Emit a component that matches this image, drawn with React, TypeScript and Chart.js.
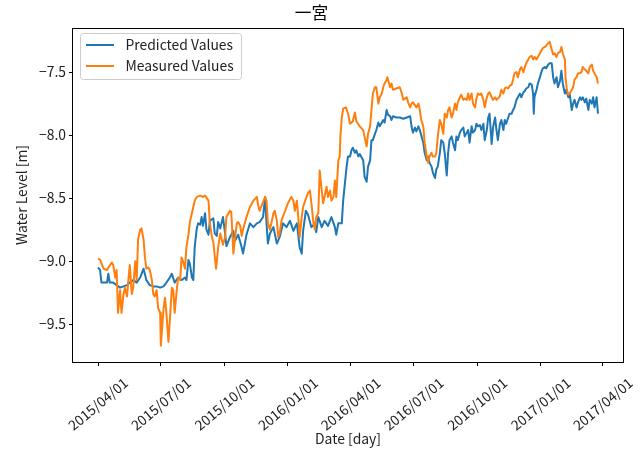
import React, { useEffect, useRef } from "react";
import { Chart, registerables } from "chart.js";

Chart.register(...registerables);

const FONT = '"Noto Sans CJK JP", "Noto Sans", sans-serif';
const TEXT_COLOR = "#222222";

const chartTitle = "一宮";
const xAxisTitle = "Date [day]";
const yAxisTitle = "Water Level [m]";
const seriesNames = ["Predicted Values", "Measured Values"];
const seriesColors = ["#1f77b4", "#ff7f0e"];

// x positions are days since 2015/04/01
const xTickDays = [0, 91, 183, 275, 366, 457, 549, 641, 731];
const xTickLabels = [
  "2015/04/01", "2015/07/01", "2015/10/01", "2016/01/01", "2016/04/01",
  "2016/07/01", "2016/10/01", "2017/01/01", "2017/04/01",
];
const yTickValues = [-9.5, -9.0, -8.5, -8.0, -7.5];

const predictedDays = [
  0, 3, 5, 8, 13, 15, 17, 22, 27, 32,
  37, 42, 46, 51, 56, 61, 66, 70, 75, 80,
  85, 90, 95, 99, 104, 107, 111, 116, 121, 126,
  128, 131, 133, 136, 138, 140, 143, 145, 148, 150,
  152, 155, 157, 160, 162, 167, 169, 172, 174, 177,
  181, 184, 186, 191, 196, 198, 203, 208, 210, 215,
  220, 225, 230, 234, 239, 242, 244, 246, 249, 254,
  259, 263, 268, 273, 278, 283, 288, 292, 295, 297,
  301, 304, 309, 314, 316, 319, 324, 328, 333, 338,
  343, 345, 348, 353, 355, 357, 360, 362, 365, 367,
  369, 372, 374, 377, 379, 384, 386, 389, 391, 394,
  396, 398, 401, 403, 406, 408, 413, 415, 418, 420,
  423, 425, 427, 432, 437, 442, 447, 452, 454, 456,
  459, 461, 464, 466, 468, 471, 473, 476, 478, 480,
  483, 485, 488, 490, 492, 495, 497, 500, 502, 505,
  507, 509, 512, 514, 517, 519, 521, 524, 526, 529,
  531, 534, 536, 538, 541, 543, 546, 548, 550, 553,
  555, 558, 560, 563, 565, 567, 570, 572, 575, 577,
  579, 582, 584, 587, 589, 591, 594, 596, 599, 601,
  603, 606, 608, 611, 613, 616, 618, 620, 623, 625,
  628, 630, 631, 632, 635, 637, 640, 642, 644, 647,
  649, 652, 654, 657, 659, 661, 664, 666, 669, 671,
  673, 676, 678, 681, 683, 686, 688, 690, 693, 695,
  698, 700, 702, 705, 707, 710, 712, 715, 717, 719,
  722, 724,
];
const predictedValues = [
  -9.05, -9.07, -9.17, -9.17, -9.17, -9.10, -9.17, -9.17, -9.19, -9.21,
  -9.20, -9.19, -9.17, -9.15, -9.17, -9.13, -9.06, -9.15, -9.19, -9.20,
  -9.20, -9.21, -9.20, -9.17, -9.13, -9.10, -9.17, -9.13, -9.15, -9.13,
  -9.15, -8.99, -9.02, -9.13, -9.15, -8.89, -8.74, -8.70, -8.71, -8.65,
  -8.72, -8.62, -8.75, -8.79, -8.68, -8.66, -8.78, -8.80, -8.69, -8.74,
  -8.65, -8.78, -8.88, -8.81, -8.76, -8.84, -8.79, -8.89, -8.94, -8.79,
  -8.70, -8.73, -8.70, -8.69, -8.65, -8.49, -8.70, -8.86, -8.78, -8.73,
  -8.86, -8.81, -8.70, -8.73, -8.68, -8.76, -8.70, -8.89, -8.94, -8.76,
  -8.60, -8.63, -8.73, -8.70, -8.77, -8.65, -8.73, -8.68, -8.72, -8.65,
  -8.73, -8.79, -8.70, -8.70, -8.52, -8.41, -8.25, -8.17, -8.17, -8.12,
  -8.10, -8.14, -8.12, -8.17, -8.15, -8.20, -8.33, -8.37, -8.25, -8.20,
  -8.04, -8.04, -7.99, -7.96, -7.90, -7.93, -7.88, -7.90, -7.80, -7.84,
  -7.85, -7.88, -7.85, -7.86, -7.86, -7.87, -7.86, -7.85, -7.93, -7.98,
  -7.94, -7.97, -7.93, -7.96, -8.00, -8.06, -8.14, -8.20, -8.17, -8.22,
  -8.25, -8.30, -8.34, -8.27, -8.25, -8.14, -8.04, -8.06, -8.14, -8.32,
  -8.14, -8.04, -8.01, -8.06, -8.12, -8.01, -8.04, -7.98, -7.96, -7.94,
  -8.01, -7.98, -7.96, -8.06, -7.93, -7.98, -7.96, -7.91, -7.93, -7.92,
  -7.96, -7.91, -8.04, -7.96, -7.86, -7.83, -8.07, -7.94, -7.86, -7.96,
  -8.04, -7.91, -7.88, -7.96, -7.88, -7.91, -7.86, -7.83, -7.83, -7.80,
  -7.78, -7.72, -7.70, -7.67, -7.70, -7.66, -7.65, -7.63, -7.62, -7.59,
  -7.60, -7.67, -7.83, -7.70, -7.64, -7.59, -7.54, -7.50, -7.47, -7.46,
  -7.47, -7.44, -7.43, -7.43, -7.54, -7.59, -7.54, -7.62, -7.57, -7.49,
  -7.59, -7.67, -7.64, -7.70, -7.67, -7.80, -7.75, -7.72, -7.78, -7.74,
  -7.70, -7.72, -7.70, -7.74, -7.71, -7.80, -7.72, -7.75, -7.70, -7.78,
  -7.70, -7.83,
];

const measuredDays = [
  0, 3, 8, 13, 15, 20, 22, 25, 27, 29,
  32, 34, 37, 39, 42, 44, 46, 49, 51, 54,
  56, 58, 61, 63, 66, 68, 70, 73, 75, 78,
  80, 82, 85, 87, 90, 91, 95, 97, 99, 102,
  104, 107, 109, 111, 114, 116, 119, 121, 123, 126,
  128, 131, 133, 136, 138, 140, 143, 148, 152, 155,
  160, 162, 165, 167, 171, 174, 177, 181, 184, 186,
  191, 193, 196, 198, 201, 203, 206, 208, 210, 215,
  220, 225, 230, 232, 234, 237, 242, 244, 246, 249,
  251, 254, 256, 259, 261, 263, 266, 271, 275, 280,
  283, 285, 288, 290, 292, 295, 297, 300, 304, 307,
  309, 312, 314, 316, 319, 321, 324, 326, 328, 331,
  333, 336, 338, 341, 343, 345, 348, 350, 351, 353,
  355, 359, 362, 365, 369, 372, 374, 379, 384, 389,
  391, 394, 396, 398, 401, 403, 406, 408, 411, 413,
  415, 418, 419, 423, 425, 427, 432, 437, 440, 442,
  447, 449, 452, 454, 456, 461, 464, 466, 468, 471,
  473, 476, 478, 480, 483, 485, 488, 490, 492, 495,
  497, 500, 502, 505, 507, 509, 512, 514, 517, 519,
  521, 524, 526, 529, 531, 534, 536, 538, 541, 543,
  546, 548, 550, 553, 555, 558, 560, 563, 565, 567,
  570, 572, 575, 577, 579, 582, 584, 587, 589, 591,
  594, 596, 599, 601, 603, 606, 608, 611, 613, 616,
  618, 620, 623, 625, 628, 630, 632, 635, 637, 640,
  642, 644, 647, 649, 652, 654, 657, 659, 661, 664,
  666, 669, 671, 673, 676, 677, 679, 681, 683, 686,
  688, 690, 693, 695, 698, 700, 702, 705, 707, 710,
  712, 715, 717, 719, 722, 724,
];
const measuredValues = [
  -8.98, -8.99, -9.06, -9.07, -9.05, -9.01, -9.03, -9.13, -9.07, -9.41,
  -9.23, -9.41, -9.26, -9.21, -9.28, -9.15, -9.03, -9.26, -9.21, -9.00,
  -9.15, -8.83, -8.75, -8.74, -8.83, -8.97, -9.06, -9.05, -9.07, -9.15,
  -9.26, -9.28, -9.23, -9.37, -9.41, -9.67, -9.37, -9.29, -9.41, -9.64,
  -9.47, -9.21, -9.23, -9.41, -9.23, -9.13, -9.15, -8.97, -9.00, -9.06,
  -8.89, -8.79, -8.69, -8.62, -8.57, -8.52, -8.49, -8.48, -8.49, -8.48,
  -8.52, -8.70, -8.81, -8.85, -9.06, -8.89, -8.78, -8.87, -8.81, -8.65,
  -8.60, -8.61, -8.94, -8.84, -8.70, -8.69, -8.72, -8.80, -8.75, -8.65,
  -8.57, -8.52, -8.49, -8.56, -8.60, -8.56, -8.49, -8.52, -8.70, -8.75,
  -8.70, -8.62, -8.60, -8.68, -8.81, -8.78, -8.67, -8.60, -8.54, -8.49,
  -8.52, -8.60, -8.52, -8.65, -8.81, -8.65, -8.57, -8.52, -8.46, -8.44,
  -8.54, -8.70, -8.75, -8.65, -8.62, -8.28, -8.44, -8.54, -8.49, -8.41,
  -8.49, -8.44, -8.52, -8.49, -8.36, -8.49, -8.20, -8.17, -8.01, -7.86,
  -7.79, -7.78, -7.83, -7.91, -7.89, -7.82, -7.89, -7.93, -7.96, -8.09,
  -7.99, -7.93, -7.80, -7.67, -7.62, -7.62, -7.75, -7.70, -7.67, -7.62,
  -7.59, -7.56, -7.54, -7.62, -7.59, -7.64, -7.63, -7.62, -7.67, -7.72,
  -7.70, -7.74, -7.78, -7.75, -7.74, -7.78, -7.75, -7.80, -7.88, -7.93,
  -8.06, -8.17, -8.22, -8.17, -8.14, -8.17, -8.17, -8.14, -8.01, -7.88,
  -7.91, -7.99, -7.83, -7.86, -7.80, -7.78, -7.86, -7.83, -7.75, -7.80,
  -7.74, -7.70, -7.68, -7.72, -7.71, -7.72, -7.67, -7.72, -7.67, -7.75,
  -7.78, -7.71, -7.67, -7.68, -7.67, -7.72, -7.78, -7.70, -7.67, -7.66,
  -7.70, -7.72, -7.70, -7.72, -7.71, -7.69, -7.64, -7.67, -7.63, -7.62,
  -7.63, -7.61, -7.60, -7.56, -7.51, -7.50, -7.54, -7.48, -7.46, -7.50,
  -7.46, -7.43, -7.40, -7.38, -7.37, -7.40, -7.38, -7.40, -7.38, -7.35,
  -7.33, -7.31, -7.30, -7.29, -7.27, -7.26, -7.32, -7.36, -7.35, -7.38,
  -7.35, -7.34, -7.30, -7.35, -7.40, -7.54, -7.64, -7.68, -7.67, -7.64,
  -7.62, -7.56, -7.54, -7.51, -7.51, -7.50, -7.46, -7.48, -7.49, -7.51,
  -7.46, -7.44, -7.49, -7.51, -7.54, -7.59,
];

const X_MIN = -36.2;
const X_MAX = 760.2;
const Y_MIN = -9.8;
const Y_MAX = -7.15;

function formatY(v: number): string {
  return (v < 0 ? "\u2212" : "") + Math.abs(v).toFixed(1);
}

export default function App() {
  const ref = useRef<HTMLCanvasElement>(null);

  useEffect(() => {
    const canvas = ref.current;
    if (!canvas) return;

    const decorPlugin = {
      id: "decor",
      afterDraw(chart: any) {
        const { ctx, chartArea: a, scales } = chart;
        ctx.save();
        // frame
        ctx.strokeStyle = "#000";
        ctx.lineWidth = 1;
        ctx.strokeRect(Math.round(a.left) - 0.5, Math.round(a.top) + 0.5, Math.round(a.right - a.left) + 1, Math.round(a.bottom - a.top));

        // x tick labels (rotated, centred on tick)
        ctx.font = `13.9px ${FONT}`;
        ctx.fillStyle = TEXT_COLOR;
        ctx.textAlign = "center";
        ctx.textBaseline = "middle";
        xTickDays.forEach((d, i) => {
          const px = scales.x.getPixelForValue(d);
          ctx.save();
          ctx.translate(px, a.bottom + 42);
          ctx.rotate((-40 * Math.PI) / 180);
          ctx.fillText(xTickLabels[i], 0, 0);
          ctx.restore();
        });

        // legend
        const lx = a.left + 7.5;
        const ly = a.top + 5.5;
        const lw = 161;
        const lh = 46;
        ctx.beginPath();
        (ctx as any).roundRect(lx, ly, lw, lh, 3);
        ctx.fillStyle = "rgba(255,255,255,0.8)";
        ctx.fill();
        ctx.strokeStyle = "#cccccc";
        ctx.lineWidth = 1;
        ctx.stroke();
        seriesNames.forEach((name, i) => {
          const y = ly + 11.5 + i * 21;
          ctx.beginPath();
          ctx.moveTo(lx + 5.5, y);
          ctx.lineTo(lx + 33.5, y);
          ctx.strokeStyle = seriesColors[i];
          ctx.lineWidth = 2;
          ctx.stroke();
          ctx.fillStyle = TEXT_COLOR;
          ctx.textAlign = "left";
          ctx.textBaseline = "middle";
          ctx.font = `13.9px ${FONT}`;
          ctx.fillText(name, lx + 45, y);
        });
        ctx.restore();
      },
    };

    const tickGrid = {
      display: true,
      drawOnChartArea: false,
      drawTicks: true,
      tickLength: 4,
      color: "#000",
      tickColor: "#000",
      tickWidth: 1,
    };

    const chart = new Chart(canvas, {
      type: "line",
      data: {
        datasets: [
          {
            label: seriesNames[0],
            data: predictedDays.map((d, i) => ({ x: d, y: predictedValues[i] })),
            borderColor: seriesColors[0],
            backgroundColor: seriesColors[0],
            borderWidth: 2,
            pointRadius: 0,
            fill: false,
            tension: 0,
            borderJoinStyle: "round",
            order: 1,
          },
          {
            label: seriesNames[1],
            data: measuredDays.map((d, i) => ({ x: d, y: measuredValues[i] })),
            borderColor: seriesColors[1],
            backgroundColor: seriesColors[1],
            borderWidth: 2,
            pointRadius: 0,
            fill: false,
            tension: 0,
            borderJoinStyle: "round",
            order: 0,
          },
        ],
      },
      options: {
        responsive: false,
        animation: false,
        devicePixelRatio: 1,
        events: [],
        layout: { padding: { left: 0, right: 17, top: 0, bottom: 0 } },
        plugins: {
          legend: { display: false },
          tooltip: { enabled: false },
          title: {
            display: true,
            text: chartTitle,
            color: "#000",
            font: { family: FONT, size: 16.7, weight: "normal" },
            padding: { top: 3, bottom: 4.96 },
          },
        },
        scales: {
          x: {
            type: "linear",
            min: X_MIN,
            max: X_MAX,
            afterBuildTicks: (s: any) => {
              s.ticks = xTickDays.map((v) => ({ value: v }));
            },
            afterFit: (s: any) => {
              s.height = 93;
              s.paddingLeft = 0;
              s.paddingRight = 0;
            },
            ticks: { display: false },
            grid: tickGrid,
            border: { display: false },
            title: {
              display: true,
              text: xAxisTitle,
              color: TEXT_COLOR,
              font: { family: FONT, size: 13.9 },
              padding: { top: 0, bottom: 8 },
            },
          },
          y: {
            type: "linear",
            min: Y_MIN,
            max: Y_MAX,
            afterBuildTicks: (s: any) => {
              s.ticks = yTickValues.map((v) => ({ value: v }));
            },
            afterFit: (s: any) => {
              s.width = 73;
              s.paddingTop = 0;
              s.paddingBottom = 0;
            },
            ticks: {
              callback: (v: any) => formatY(Number(v)),
              color: TEXT_COLOR,
              font: { family: FONT, size: 13.9 },
              padding: 3,
            },
            grid: tickGrid,
            border: { display: false },
            title: {
              display: true,
              text: yAxisTitle,
              color: TEXT_COLOR,
              font: { family: FONT, size: 13.9 },
              padding: { top: 13.7, bottom: 0 },
            },
          },
        },
      } as any,
      plugins: [decorPlugin],
    });

    return () => chart.destroy();
  }, []);

  return (
    <div style={{ position: "absolute", left: 0, top: 0, width: 640, height: 455, background: "#fff" }}>
      <canvas ref={ref} width={640} height={455} style={{ display: "block" }} />
    </div>
  );
}
